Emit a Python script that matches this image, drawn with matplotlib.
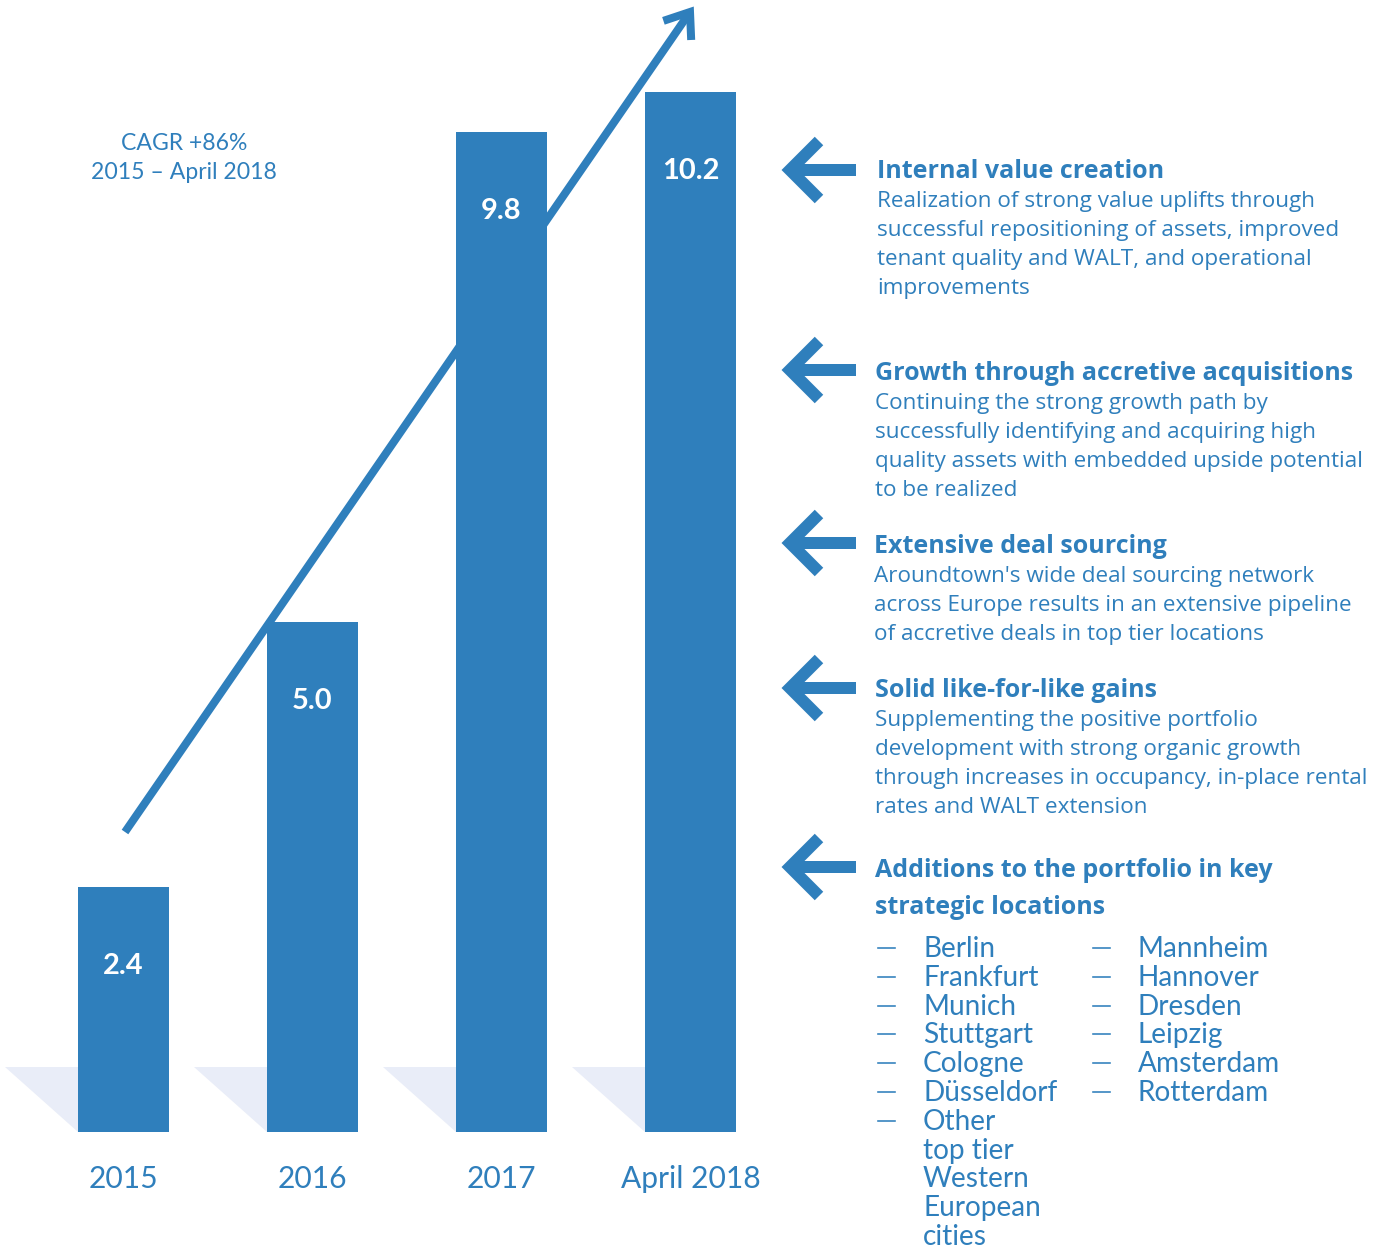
import numpy as np
import matplotlib
matplotlib.use("Agg")
import matplotlib.pyplot as plt
from matplotlib.patches import Polygon

BLUE = "#2f7fbc"
SHADOW = "#e9edf8"
FONT = "Lato"
TEXT_FONT = "Open Sans"

# portfolio value, EUR bn
periods = ["2015", "2016", "2017", "April 2018"]
values = [2.4, 5.0, 9.8, 10.2]
value_labels = ["2.4", "5.0", "9.8", "10.2"]

cagr_lines = ["CAGR +86%", "2015 \u2013 April 2018"]

headings = [
    ["Internal value creation"],
    ["Growth through accretive acquisitions"],
    ["Extensive deal sourcing"],
    ["Solid like-for-like gains"],
    ["Additions to the portfolio in key", "strategic locations"],
]
bodies = [
    ["Realization of strong value uplifts through",
     "successful repositioning of assets, improved",
     "tenant quality and WALT, and operational",
     "improvements"],
    ["Continuing the strong growth path by",
     "successfully identifying and acquiring high",
     "quality assets with embedded upside potential",
     "to be realized"],
    ["Aroundtown's wide deal sourcing network",
     "across Europe results in an extensive pipeline",
     "of accretive deals in top tier locations"],
    ["Supplementing the positive portfolio",
     "development with strong organic growth",
     "through increases in occupancy, in-place rental",
     "rates and WALT extension"],
    [],
]
cities_left = ["Berlin", "Frankfurt", "Munich", "Stuttgart", "Cologne",
               "D\u00fcsseldorf", "Other\ntop tier\nWestern\nEuropean\ncities"]
cities_right = ["Mannheim", "Hannover", "Dresden", "Leipzig", "Amsterdam", "Rotterdam"]

W, H = 1379, 1250
fig = plt.figure(figsize=(W / 100, H / 100), dpi=100)
PT = 0.72  # points per pixel at 100 dpi

# pixel-space layer for arrows and text
ov = fig.add_axes([0, 0, 1, 1], zorder=0)
ov.set_xlim(0, W)
ov.set_ylim(H, 0)
ov.axis("off")

# bar layer: category index on x, value on y
base_px, step_px, k = 1132, 189, 102.0
x0_px = 123.5
ax = fig.add_axes([0, 0, 1, 1], zorder=1)
ax.patch.set_visible(False)
ax.set_xlim(-x0_px / step_px, (W - x0_px) / step_px)
ax.set_ylim(-(H - base_px) / k, base_px / k)
ax.axis("off")

x = np.arange(len(periods))
width = 91 / step_px
bars = ax.bar(x, values, width=width, color=BLUE, zorder=3)

# light floor shadow to the left of each bar
sh_h, sh_w = 65 / k, 73 / step_px
for b in bars:
    left = b.get_x()
    ax.add_patch(Polygon([(left - sh_w, sh_h), (left + width, sh_h), (left + width, 0), (left, 0)],
                         closed=True, color=SHADOW, lw=0, zorder=2))

for xi, v, lab in zip(x, values, value_labels):
    ax.text(xi, v - 87 / k, lab, ha="center", va="baseline", color="white",
            fontsize=29 * PT, fontweight="bold", family=FONT, zorder=4)
    ax.text(xi, -56 / k, periods[xi], ha="center", va="baseline", color=BLUE,
            fontsize=30 * PT, family=FONT)

# growth arrow behind the bars
lw_px = 8
p0, p1 = np.array([125.0, 832.0]), np.array([690.0, 12.0])
ov.plot([p0[0], p1[0]], [p0[1], p1[1]], color=BLUE, lw=lw_px * PT, solid_capstyle="butt")
d = (p0 - p1) / np.linalg.norm(p0 - p1)
arms = []
for ang in (np.radians(37), -np.radians(37)):
    rot = np.array([[np.cos(ang), -np.sin(ang)], [np.sin(ang), np.cos(ang)]])
    arms.append(p1 + 28 * rot @ d)
ov.plot([arms[0][0], p1[0], arms[1][0]], [arms[0][1], p1[1], arms[1][1]],
        color=BLUE, lw=lw_px * PT, solid_joinstyle="miter", solid_capstyle="butt")

for i, line in enumerate(cagr_lines):
    ov.text(184, 150 + 29 * i, line, ha="center", va="baseline", color=BLUE,
            fontsize=23 * PT, family=FONT)

# left-pointing arrows and text blocks on the right
arrow_y = [170, 370, 543, 688, 867]
head_base = [178, 380, 553, 697, 877]
text_x = [877, 875, 874, 875, 875]
for ay, hb, tx, head, body in zip(arrow_y, head_base, text_x, headings, bodies):
    ov.plot([790, 856], [ay, ay], color=BLUE, lw=12 * PT, solid_capstyle="butt")
    ov.plot([819, 790, 819], [ay - 29, ay, ay + 29], color=BLUE, lw=12 * PT,
            solid_joinstyle="miter", solid_capstyle="butt")
    for j, h in enumerate(head):
        ov.text(tx, hb + 37 * j, h, ha="left", va="baseline", color=BLUE,
                fontsize=25 * PT, fontweight="bold", family=TEXT_FONT)
    for j, line in enumerate(body):
        ov.text(tx, hb + 29 + 29 * j, line, ha="left", va="baseline", color=BLUE,
                fontsize=22.5 * PT, family=TEXT_FONT)

row = 28.8
list_top = 957
for col_dash, col_name, names in ((878, 923, cities_left), (1093, 1138, cities_right)):
    r = 0
    for name in names:
        y = list_top + row * r
        ov.plot([col_dash, col_dash + 17], [y - 9, y - 9], color=BLUE, lw=1.6 * PT)
        for sub in name.split("\n"):
            ov.text(col_name, list_top + row * r, sub, ha="left", va="baseline",
                    color=BLUE, fontsize=28 * PT, family=FONT)
            r += 1

fig.savefig("out.png", dpi=100, facecolor="white")
